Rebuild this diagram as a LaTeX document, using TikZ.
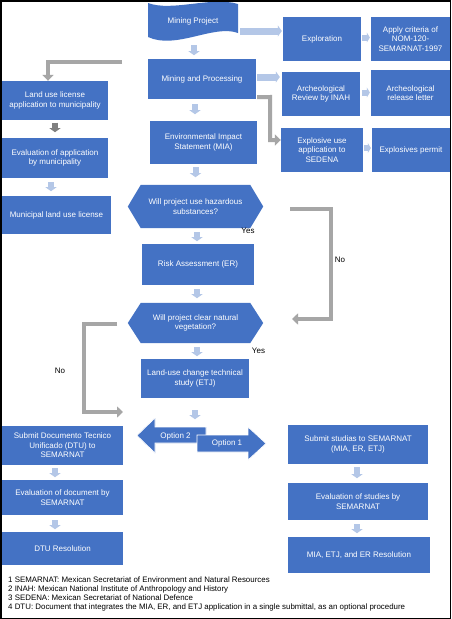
\documentclass[tikz,border=0pt]{standalone}
\usepackage{fontspec}
\setmainfont{Liberation Sans}
\usetikzlibrary{arrows.meta,backgrounds,calc}
\definecolor{boxblue}{RGB}{68,114,196}
\definecolor{lightarr}{RGB}{180,199,231}
\definecolor{grayarr}{RGB}{166,166,166}
\definecolor{darkarr}{RGB}{128,128,128}
\begin{document}
\begin{tikzpicture}[x=1pt,y=-1pt,
  box/.style={fill=boxblue, text=white, font=\fontsize{8}{9.5}\selectfont, align=center, inner sep=0pt},
  wh/.style 2 args={minimum width=#1pt, minimum height=#2pt},
  lbl/.style={font=\fontsize{8}{9.5}\selectfont, inner sep=0pt, text=black},
  fnote/.style={font=\fontsize{7.9}{9}\selectfont, inner sep=0pt, anchor=west, text=black},
  downarr/.style={draw=lightarr, line width=6pt, -{Triangle[width=11pt,length=4pt]}},
  darkdown/.style={draw=darkarr, line width=6pt, -{Triangle[width=11pt,length=4pt]}},
  rightarr/.style={draw=lightarr, line width=7pt, -{Triangle[width=11pt,length=4pt]}},
  smallright/.style={draw=lightarr, line width=6pt, -{Triangle[width=10pt,length=3pt]}},
  elbow/.style={draw=grayarr, line width=4pt, -{Triangle[width=11pt,length=6pt]}},
  optarrow/.style={fill=boxblue, draw=white, line width=0.6pt}
]
\useasboundingbox (0,0) rectangle (451,619);

% ---- wave shape (Mining Project)
\fill[boxblue] (148,3) .. controls (172,12) and (212,-4) .. (238,4) -- (238,33)
   .. controls (214,24) and (176,50) .. (148,37) -- cycle;
\node[box,wh={90}{36},fill=none] (mp) at (193,21) {Mining Project};

% ---- boxes
\node[box,wh={78}{44}] (expl) at (322,39) {Exploration};
\node[box,wh={79}{44}] (apply) at (410.5,39) {Apply criteria of\\NOM-120-\\SEMARNAT-1997};
\node[box,wh={108}{40}] (mnp) at (202,79) {Mining and Processing};
\node[box,wh={78}{44}] (arch) at (321,94) {Archeological\\Review by INAH};
\node[box,wh={79}{46}] (archrel) at (410.5,93) {Archeological\\release letter};
\node[box,wh={82}{44}] (explo) at (322,150) {Explosive use\\application to\\SEDENA};
\node[box,wh={78}{44}] (permit) at (411,150) {Explosives permit};
\node[box,wh={106}{39}] (land) at (55,100.5) {Land use license\\application to municipality};
\node[box,wh={106}{40}] (evalm) at (55,158) {Evaluation of application\\by municipality};
\node[box,wh={109}{38}] (munlic) at (56.5,215) {Municipal land use license};
\node[box,wh={107}{43}] (mia) at (203.5,142.5) {Environmental Impact\\Statement (MIA)};
\node[box,wh={135}{43},fill=none] (haz) at (195.5,206.5) {Will project use hazardous\\substances?};
\node[box,wh={112}{41}] (risk) at (198,264.5) {Risk Assessment (ER)};
\node[box,wh={135}{40},fill=none] (veg) at (195.5,323) {Will project clear natural\\vegetation?};
\node[box,wh={108}{39}] (etj) at (195,378.5) {Land-use change technical\\study (ETJ)};
\node[box,wh={121}{39}] (dtu) at (62.5,445.5) {Submit Documento Tecnico\\Unificado (DTU) to\\SEMARNAT};
\node[box,wh={121}{35}] (evald) at (62.5,497.5) {Evaluation of document by\\SEMARNAT};
\node[box,wh={121}{33}] (dtures) at (62.5,548.5) {DTU Resolution};
\node[box,wh={140}{39}] (stud) at (358,444.5) {Submit studias to SEMARNAT\\(MIA, ER, ETJ)};
\node[box,wh={140}{37}] (evals) at (358,501.5) {Evaluation of studies by\\SEMARNAT};
\node[box,wh={142}{36}] (res) at (359,555) {MIA, ETJ, and ER Resolution};

% ---- background and hexagons behind their text
\begin{scope}[on background layer]
\fill[white] (0,0) rectangle (451,619);
\foreach \h in {haz,veg}{
  \fill[boxblue] (\h.west) -- ($(\h.north west)+(13,0)$) -- ($(\h.north east)+(-13,0)$)
     -- (\h.east) -- ($(\h.south east)+(-13,0)$) -- ($(\h.south west)+(13,0)$) -- cycle;
}
\end{scope}

% ---- option arrows
\fill[optarrow] (137,435.5) -- (155,418) -- (155,427) -- (206,427) -- (206,443) -- (155,443) -- (155,453) -- cycle;
\draw[optarrow] (137,435.5) -- (155,418) -- (155,427) -- (206,427) -- (206,443) -- (155,443) -- (155,453) -- cycle;
\draw[optarrow] (197,435) -- (248,435) -- (248,427) -- (266,443.5) -- (248,460) -- (248,452) -- (197,452) -- cycle;
\node[box,fill=none] (opt2) at (175.5,436) {Option 2};
\node[box,fill=none] (opt1) at (227,443.5) {Option 1};

% ---- light block arrows (down)
\draw[downarr] ($(mp.south)+(1,6)$) -- ($(mp.south)+(1,16)$);
\draw[downarr] ($(mnp.south)+(-7,5)$) -- ($(mnp.south)+(-7,15)$);
\draw[downarr] ($(mia.south)+(-8,3)$) -- ($(mia.south)+(-8,13)$);
\draw[downarr] ($(haz.south)+(1.5,4)$) -- ($(haz.south)+(1.5,13)$);
\draw[downarr] ($(risk.south)+(-1,4)$) -- ($(risk.south)+(-1,13)$);
\draw[downarr] ($(veg.south)+(1.5,4)$) -- ($(veg.south)+(1.5,13)$);
\draw[downarr] ($(etj.south)+(0,12)$) -- ($(etj.south)+(0,21)$);
\draw[darkdown] ($(land.south)+(0,2.5)$) -- ($(land.south)+(0,12)$);
\draw[downarr] ($(evalm.south)+(-4,4)$) -- ($(evalm.south)+(-4,13)$);
\draw[downarr] ($(dtu.south)+(-7.5,3)$) -- ($(dtu.south)+(-7.5,12)$);
\draw[downarr] ($(evald.south)+(-7.5,5)$) -- ($(evald.south)+(-7.5,14)$);
\draw[downarr] ($(stud.south)+(-1,3)$) -- ($(stud.south)+(-1,14)$);
\draw[downarr] ($(evals.south)+(-1,4)$) -- ($(evals.south)+(-1,13)$);

% ---- light block arrows (right)
\draw[rightarr] ($(mp.east)+(2,10)$) -- ($(expl.west)+(-1,-8)$);
\draw[rightarr] ($(mnp.east)+(1,-2)$) -- ($(arch.west)+(-2,-17)$);
\draw[smallright] ($(expl.east)+(1,-1.5)$) -- ($(apply.west)+(-1,-1.5)$);
\draw[smallright] ($(arch.east)+(2,-1.5)$) -- ($(archrel.west)+(-1,-0.5)$);
\draw[smallright] ($(explo.east)+(1,-2)$) -- ($(permit.west)+(-1,-2)$);

% ---- gray elbow connectors
\coordinate (landstart) at (122,62);
\draw[elbow] (landstart) -- (48,62) -- (48,62 |- land.north);
\draw[elbow] ($(mnp.south east)+(1,-2)$) -- (270,97) -- (270,140) -- (explo.west |- 0,140);
\coordinate (nor1) at (290,209);
\coordinate (nor2) at (292,319);
\draw[elbow] (nor1) -- (331,209) -- (331,319) -- (nor2);
\coordinate (nol1) at (117,323.5);
\coordinate (nol2) at (123,412);
\draw[elbow] (nol1) -- (84,323.5) -- (84,412) -- (nol2);

% ---- labels
\node[lbl] (yes1) at (248,231) {Yes};
\node[lbl] (yes2) at (258.5,351) {Yes};
\node[lbl] (nor) at (340,260) {No};
\node[lbl] (nol) at (60,370.5) {No};

% ---- footnotes
\node[fnote] (fn1) at (8,580) {1 SEMARNAT: Mexican Secretariat of Environment and Natural Resources};
\node[fnote] (fn2) at (8,589) {2 INAH: Mexican National Institute of Anthropology and History};
\node[fnote] (fn3) at (8,598) {3 SEDENA: Mexican Secretariat of National Defence};
\node[fnote] (fn4) at (8,607.5) {4 DTU: Document that integrates the MIA, ER, and ETJ application in a single submittal, as an optional procedure};

% ---- frame
\draw[black,line width=1.5pt] (0.75,0.75) rectangle (450.25,618.25);
\end{tikzpicture}
\end{document}
